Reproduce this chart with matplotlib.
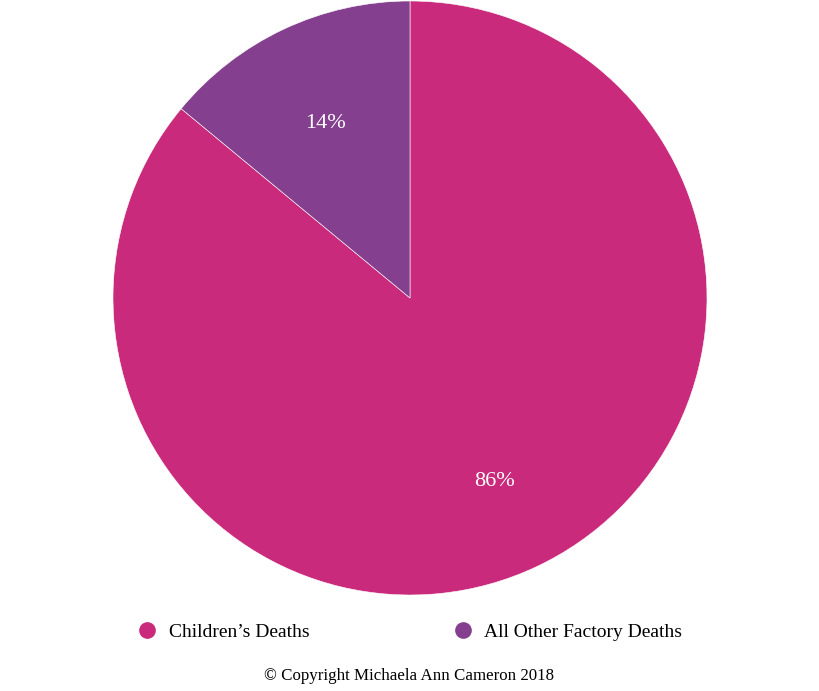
import matplotlib.pyplot as plt
from matplotlib.lines import Line2D

labels = ["Children\u2019s Deaths", "All Other Factory Deaths"]
shares = [86, 14]
colors = ["#C92A7B", "#843F8F"]

plt.rcParams['font.family'] = ['Liberation Serif', 'DejaVu Serif']

fig = plt.figure(figsize=(8.19, 6.91), dpi=100)
ax = fig.add_axes([113 / 819, 96 / 691, 594 / 819, 594 / 691])

wedges, texts, autotexts = ax.pie(
    shares, colors=colors, startangle=90, counterclock=False,
    autopct='%d%%', pctdistance=0.665,
    wedgeprops=dict(edgecolor='white', linewidth=0.4),
    textprops=dict(color='white', fontsize=16))
for t in autotexts:
    x, y = t.get_position()
    t.set_position((x, y - 0.015))
ax.set_xlim(-1, 1)
ax.set_ylim(-1, 1)
ax.set_aspect('equal')

handles = [Line2D([], [], marker='o', linestyle='', markersize=11,
                  markerfacecolor=c, markeredgecolor=c) for c in colors]
fig.legend(handles, labels, ncol=2, loc='center', bbox_to_anchor=(410 / 819, 1 - 632 / 691),
           frameon=False, fontsize=14, columnspacing=7.4, handletextpad=0.6,
           handlelength=1.0)

fig.text(409 / 819, 1 - 676 / 691, "\u00a9 Copyright Michaela Ann Cameron 2018",
         ha='center', va='center', fontsize=12.2)

fig.savefig('out.png', dpi=100)
